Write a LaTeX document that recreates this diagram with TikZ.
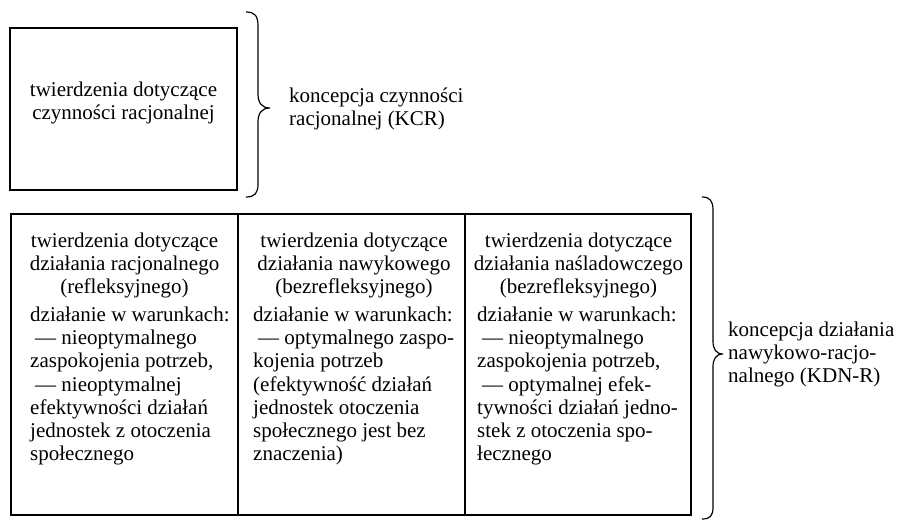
\documentclass[tikz,border=0pt]{standalone}
\usepackage{fontspec}
\setmainfont{Liberation Serif}
\begin{document}
\begin{tikzpicture}[x=1pt,y=-1pt,
  txt/.style={inner sep=0pt, font=\fontsize{21}{23.2}\selectfont},
  hdr/.style={txt, anchor=north, align=center},
  body/.style={txt, anchor=north west, align=left},
  frame/.style={line width=1.9pt},
  brc/.style={line width=1.2pt}]
\useasboundingbox (0,0) rectangle (906,521);
% top box
\draw[frame] (10,28) rectangle (237,190);
\node[hdr] (kcrtext) at (123.5,80.2) {\strut twierdzenia dotyczące\\czynności racjonalnej};
% top brace
\draw[brc] (246,12) .. controls (255,12) and (258,16) .. (258,26) -- (258,94)
  .. controls (258,103) and (262,108) .. (270,108)
  .. controls (262,108) and (258,113) .. (258,122) -- (258,184)
  .. controls (258,193) and (255,197) .. (246,197);
\node[body] (kcrlabel) at (289,86) {\strut koncepcja czynności\\racjonalnej (KCR)};
% table
\draw[frame] (11,214) rectangle (691,515);
\draw[frame] (238,214) -- (238,515);
\draw[frame] (465,214) -- (465,515);
% column 1
\node[hdr] (h1) at (124.5,230.9) {\strut twierdzenia dotyczące\\działania racjonalnego\\(refleksyjnego)};
\node[body] (b1) at (30,305) {\strut działanie w warunkach:\\\hspace*{5pt}— nieoptymalnego\\zaspokojenia potrzeb,\\\hspace*{5pt}— nieoptymalnej\\efektywności działań\\jednostek z otoczenia\\społecznego};
% column 2
\node[hdr] (h2) at (354,230.9) {\strut twierdzenia dotyczące\\działania nawykowego\\(bezrefleksyjnego)};
\node[body] (b2) at (253,305) {\strut działanie w warunkach:\\\hspace*{5pt}— optymalnego zaspo-\\kojenia potrzeb\\(efektywność działań\\jednostek otoczenia\\społecznego jest bez\\znaczenia)};
% column 3
\node[hdr] (h3) at (578.5,230.9) {\strut twierdzenia dotyczące\\działania naśladowczego\\(bezrefleksyjnego)};
\node[body] (b3) at (477,305) {\strut działanie w warunkach:\\\hspace*{5pt}— nieoptymalnego\\zaspokojenia potrzeb,\\\hspace*{5pt}— optymalnej efek-\\tywności działań jedno-\\stek z otoczenia spo-\\łecznego};
% bottom brace
\draw[brc] (702,197) .. controls (710,197) and (713,201) .. (713,210) -- (713,341)
  .. controls (713,349) and (716,354) .. (723,354)
  .. controls (716,354) and (713,359) .. (713,367) -- (713,507)
  .. controls (713,516) and (710,519) .. (702,519);
\node[body] (kdnlabel) at (728,320) {\strut koncepcja działania\\nawykowo-racjo-\\nalnego (KDN-R)};
\end{tikzpicture}
\end{document}
